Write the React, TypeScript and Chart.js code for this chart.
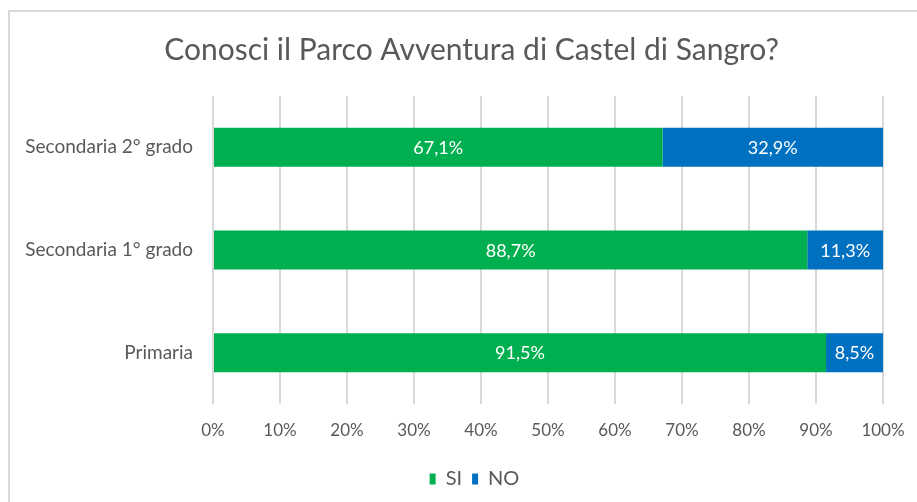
import React, { useEffect, useRef } from "react";
import { Chart, registerables } from "chart.js";

Chart.register(...registerables);

const categories = ["Secondaria 2° grado", "Secondaria 1° grado", "Primaria"];
const siValues = [67.1, 88.7, 91.5];
const noValues = [32.9, 11.3, 8.5];
const xTicks = [0, 10, 20, 30, 40, 50, 60, 70, 80, 90, 100];
const titleText = "Conosci il Parco Avventura di Castel di Sangro?";

const FONT = "Lato, 'Open Sans', sans-serif";
const TEXT = "#595959";

const labelPlugin = {
  id: "barLabels",
  afterDatasetsDraw(chart: any) {
    const ctx = chart.ctx;
    ctx.save();
    ctx.fillStyle = "#ffffff";
    ctx.font = `18px ${FONT}`;
    ctx.textAlign = "center";
    ctx.textBaseline = "middle";
    chart.data.datasets.forEach((ds: any, di: number) => {
      const meta = chart.getDatasetMeta(di);
      meta.data.forEach((bar: any, i: number) => {
        const v = ds.data[i];
        const cx = (bar.x + bar.base) / 2;
        ctx.fillText(v.toFixed(1).replace(".", ",") + "%", cx, bar.y + 1);
      });
    });
    ctx.restore();
  },
};

const shiftPlugin = {
  id: "shiftBlocks",
  afterLayout(chart: any) {
    const t = chart.titleBlock;
    if (t) {
      t.left += 30;
      t.right += 30;
    }
    const l = chart.legend;
    if (l) {
      l.left += 33;
      l.right += 33;
    }
  },
};

export default function App() {
  const ref = useRef<HTMLCanvasElement | null>(null);
  useEffect(() => {
    if (!ref.current) return;
    const chart = new Chart(ref.current, {
      type: "bar",
      data: {
        labels: categories,
        datasets: [
          { label: "SI", data: siValues, backgroundColor: "#00B050", borderWidth: 0 },
          { label: "NO", data: noValues, backgroundColor: "#0070C0", borderWidth: 0 },
        ],
      },
      options: {
        indexAxis: "y",
        animation: false,
        responsive: false,
        maintainAspectRatio: false,
        layout: { padding: { left: 0, right: 34, top: 0, bottom: 3 } },
        datasets: { bar: { barPercentage: 0.38, categoryPercentage: 1 } },
        scales: {
          x: {
            stacked: true,
            min: 0,
            max: 100,
            afterBuildTicks(scale: any) {
              scale.ticks = xTicks.map((v) => ({ value: v }));
            },
            afterFit(scale: any) {
              scale.height = 55;
              scale.paddingRight = 0;
              scale.paddingLeft = 0;
            },
            ticks: {
              color: TEXT,
              font: { family: FONT, size: 17 },
              padding: 16,
              callback: (v: any) => v + "%",
            },
            grid: { color: "#d9d9d9", lineWidth: 2, drawTicks: false },
            border: { display: false },
          },
          y: {
            stacked: true,
            afterFit(scale: any) {
              scale.width = 213;
            },
            ticks: {
              color: TEXT,
              font: { family: FONT, size: 19 },
              padding: 20,
            },
            grid: { display: false, drawTicks: false },
            border: { display: false },
          },
        },
        plugins: {
          title: {
            display: true,
            text: titleText,
            color: TEXT,
            font: { family: FONT, size: 30, weight: "normal" },
            padding: { top: 32, bottom: 28 },
          },
          legend: {
            position: "bottom",
            labels: {
              color: TEXT,
              font: { family: FONT, size: 20 },
              boxWidth: 6,
              boxHeight: 11,
              padding: 10,
            },
          },
          tooltip: { enabled: false },
        },
      },
      plugins: [labelPlugin, shiftPlugin],
    });
    return () => chart.destroy();
  }, []);

  return (
    <div style={{ position: "absolute", left: 0, top: 0, width: 917, height: 502, overflow: "hidden", background: "#fff" }}>
      <div
        style={{
          position: "absolute",
          left: 8,
          top: 10,
          width: 920,
          height: 520,
          border: "2px solid #d9d9d9",
          boxSizing: "border-box",
        }}
      />
      <canvas ref={ref} width={917} height={502} style={{ position: "absolute", left: 0, top: 0 }} />
    </div>
  );
}
